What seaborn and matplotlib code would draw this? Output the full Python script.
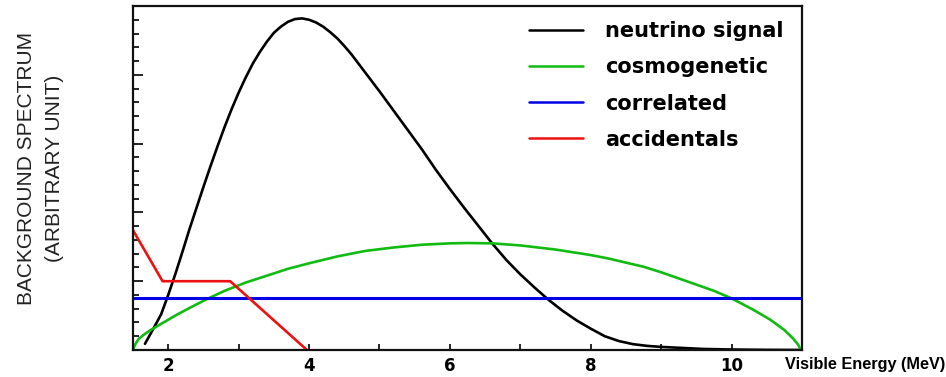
import numpy as np
import pandas as pd
import matplotlib
matplotlib.use("Agg")
import matplotlib.pyplot as plt
from matplotlib.ticker import MultipleLocator, NullFormatter
import seaborn as sns

# Energy grid (MeV) and spectrum heights (arbitrary units) for each component
signal_e = [1.67, 1.80, 1.90, 2.00, 2.10, 2.20, 2.30, 2.40, 2.50, 2.60, 2.70, 2.80,
            2.90, 3.00, 3.10, 3.20, 3.30, 3.40, 3.50, 3.60, 3.70, 3.80, 3.90, 4.00,
            4.10, 4.20, 4.30, 4.40, 4.50, 4.60, 4.80, 5.00, 5.20, 5.40, 5.60, 5.80,
            6.00, 6.20, 6.40, 6.60, 6.80, 7.00, 7.20, 7.40, 7.60, 7.80, 8.00, 8.20,
            8.40, 8.60, 8.80, 9.00, 9.30, 9.60, 10.0, 10.5, 11.0]
signal_y = [0.09, 0.33, 0.52, 0.80, 1.10, 1.42, 1.75, 2.06, 2.37, 2.67, 2.96, 3.24,
            3.50, 3.74, 3.96, 4.16, 4.33, 4.48, 4.61, 4.70, 4.77, 4.81, 4.82, 4.80,
            4.76, 4.70, 4.62, 4.53, 4.42, 4.30, 4.03, 3.76, 3.48, 3.20, 2.92, 2.62,
            2.34, 2.07, 1.81, 1.55, 1.31, 1.10, 0.91, 0.73, 0.57, 0.43, 0.31, 0.20,
            0.13, 0.085, 0.06, 0.045, 0.03, 0.015, 0.007, 0.002, 0.0]

cosmo_e = [1.50, 1.53, 1.58, 1.65, 1.75, 1.90, 2.10, 2.30, 2.55, 2.80, 3.10, 3.40,
           3.70, 4.00, 4.40, 4.80, 5.20, 5.60, 6.00, 6.25, 6.60, 7.00, 7.50, 8.00,
           8.25, 8.50, 8.75, 9.00, 9.25, 9.50, 9.75, 10.0, 10.3, 10.55, 10.75, 10.88,
           10.95, 10.98]
cosmo_y = [0.00, 0.08, 0.16, 0.22, 0.29, 0.38, 0.50, 0.61, 0.74, 0.86, 0.98, 1.08,
           1.18, 1.26, 1.36, 1.44, 1.49, 1.53, 1.55, 1.555, 1.55, 1.52, 1.46, 1.38,
           1.33, 1.27, 1.21, 1.13, 1.04, 0.95, 0.86, 0.75, 0.59, 0.44, 0.29, 0.16,
           0.07, 0.0]

corr_e = [1.5, 11.0]
corr_y = [0.76, 0.76]

acc_e = [1.5, 1.92, 2.88, 3.97]
acc_y = [1.74, 1.0, 1.0, 0.0]

series = [
    ("neutrino signal", signal_e, signal_y, "#000000", 1.9),
    ("cosmogenetic", cosmo_e, cosmo_y, "#11bb11", 1.9),
    ("correlated", corr_e, corr_y, "#0000e6", 2.2),
    ("accidentals", acc_e, acc_y, "#ee1111", 1.9),
]

sns.set_theme(style="ticks")
plt.rcParams["font.family"] = ["DejaVu Sans"]
plt.rcParams["text.color"] = "black"
plt.rcParams["xtick.color"] = "black"
plt.rcParams["ytick.color"] = "black"
plt.rcParams["xtick.labelcolor"] = "black"

fig = plt.figure(figsize=(9.46, 3.77), dpi=100)
ax = fig.add_axes([133 / 946, 1 - 350 / 377, (802 - 133) / 946, (350 - 6) / 377])

for name, e, y, col, lw in series:
    df = pd.DataFrame({"energy": e, "value": y})
    sns.lineplot(data=df, x="energy", y="value", ax=ax, color=col, linewidth=lw,
                 label=name, sort=False, estimator=None)

ax.set_xlim(1.5, 11.0)
ax.set_ylim(0, 5)
ax.set_xlabel("")
ax.set_ylabel("")

ax.xaxis.set_major_locator(MultipleLocator(2))
ax.xaxis.set_minor_locator(MultipleLocator(1))
ax.yaxis.set_major_locator(MultipleLocator(1))
ax.yaxis.set_minor_locator(MultipleLocator(0.2))
ax.yaxis.set_major_formatter(NullFormatter())
ax.tick_params(axis="x", which="both", direction="in", length=4.5, width=1.2,
               top=False, pad=5, labelsize=12, labelcolor="black")
ax.tick_params(axis="y", which="major", direction="in", length=7, width=1.2, right=False)
ax.tick_params(axis="y", which="minor", direction="in", length=4, width=1.2, right=False)
for lbl in ax.get_xticklabels():
    lbl.set_fontweight("bold")

for sp in ax.spines.values():
    sp.set_visible(True)
    sp.set_linewidth(1.6)
    sp.set_color("#111111")

leg = ax.legend(loc="upper left", bbox_to_anchor=(529 / 946, 1 - 21 / 377),
                bbox_transform=fig.transFigure, frameon=False, borderpad=0,
                borderaxespad=0, handlelength=2.6, handletextpad=1.05,
                labelspacing=0.78,
                prop={"family": "DejaVu Sans", "weight": "bold", "size": 15})
for h in leg.get_lines():
    h.set_linewidth(1.8)
for t in leg.get_texts():
    t.set_color("black")

fig.text(785 / 946, 1 - 365 / 377, "Visible Energy (MeV)", ha="left", va="center",
         fontsize=11.7, fontweight="bold", family="Liberation Sans", color="black")

fig.text(40 / 946, 1 - 168 / 377, "BACKGROUND SPECTRUM\n(ARBITRARY UNIT)",
         rotation=90, ha="center", va="center", multialignment="center",
         fontsize=15, family="Liberation Sans", color="#222222", linespacing=1.6)

fig.savefig("out.png", dpi=100, facecolor="white")
